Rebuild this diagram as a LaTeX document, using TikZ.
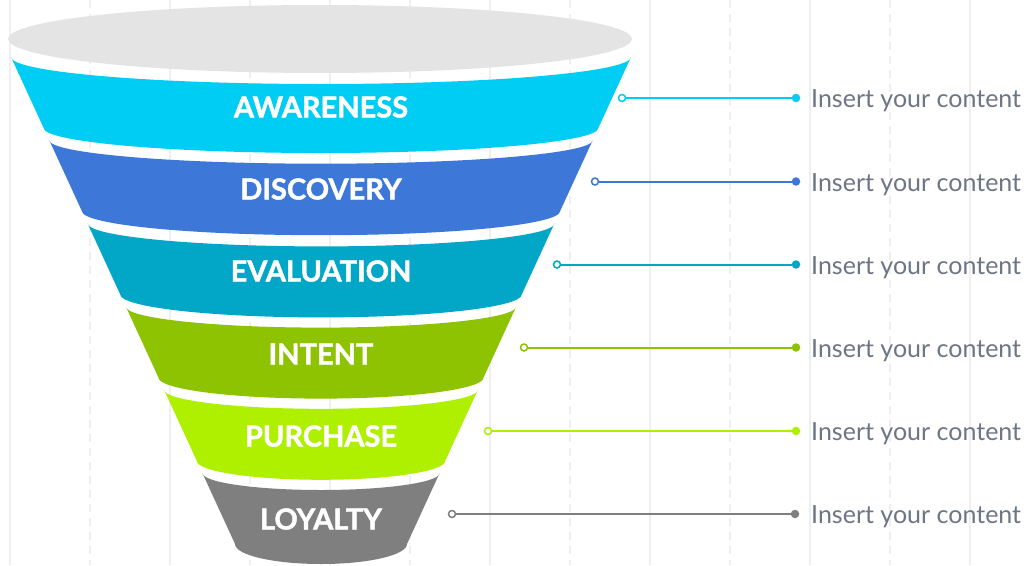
\documentclass[tikz,border=0pt]{standalone}
\usepackage{fontspec}
\setmainfont{Lato}
\newfontfamily\labelfont{Lato}[BoldFeatures={FakeBold=1.5}]
\definecolor{cA}{HTML}{00CDF4}
\definecolor{cB}{HTML}{3D78D8}
\definecolor{cC}{HTML}{02A6C7}
\definecolor{cD}{HTML}{8DC300}
\definecolor{cE}{HTML}{AFF000}
\definecolor{cF}{HTML}{7F7F7F}
\definecolor{topc}{HTML}{E4E4E4}
\definecolor{gridc}{HTML}{EFEFEF}
\definecolor{txtc}{HTML}{6E7585}
\newcommand\funnelseg[5]{%
  \pgfmathsetmacro\hwt{310-0.46*(#2-57)}%
  \pgfmathsetmacro\hwb{310-0.46*(#3-57)}%
  \fill[#1] ({321-\hwt},#2) arc[start angle=180,end angle=0,x radius=\hwt,y radius=#4]
    -- ({321+\hwb},#3) arc[start angle=0,end angle=180,x radius=\hwb,y radius=#5] -- cycle;
}
\begin{document}
\begin{tikzpicture}[x=1pt,y=1pt,yscale=-1,
  gridsolid/.style={draw=gridc, line width=1.5pt},
  griddash/.style={gridsolid, dash pattern=on 8pt off 6pt},
  seglabel/.style={text=white, font=\labelfont\bfseries\fontsize{29}{29}\selectfont, anchor=base, inner sep=0pt},
  content/.style={text=txtc, font=\fontsize{25}{26}\selectfont, anchor=base west, inner sep=0pt},
  opendot/.style={circle, draw=#1, fill=white, line width=1.5pt, minimum size=7pt, inner sep=0pt},
  fulldot/.style={circle, fill=#1, minimum size=8.5pt, inner sep=0pt},
  link/.style={draw=#1, line width=2pt}]
\useasboundingbox (0,0) rectangle (1028,565);
\fill[white] (0,0) rectangle (1028,565);
% background grid
\foreach \gx in {10,170,330,490,650,810,970} \draw[gridsolid] (\gx,0) -- (\gx,565);
\foreach \gx in {90,250,410,570,730,890} \draw[griddash] (\gx,0) -- (\gx,565);
% funnel
\fill[topc] (320,39) ellipse [x radius=312, y radius=34];
\funnelseg{cA}{57}{128}{27}{25}
\funnelseg{cB}{140.2}{211.2}{23.5}{24}
\funnelseg{cC}{223.4}{294.4}{23}{23}
\funnelseg{cD}{306.6}{377.6}{21}{21}
\funnelseg{cE}{389.8}{460.8}{19}{19}
\funnelseg{cF}{473}{544}{17}{20}
% labels
\node[seglabel] (l1) at (321,117.5) {AWARENESS};
\node[seglabel] (l2) at (321,199.5) {DISCOVERY};
\node[seglabel] (l3) at (321,281.5) {EVALUATION};
\node[seglabel] (l4) at (321,364.5) {INTENT};
\node[seglabel] (l5) at (321,446.5) {PURCHASE};
\node[seglabel] (l6) at (321,529.5) {LOYALTY};
% connectors
\node[opendot=cA] (o1) at (622,98) {};
\node[opendot=cB] (o2) at (595,181.5) {};
\node[opendot=cC] (o3) at (557,264.5) {};
\node[opendot=cD] (o4) at (524,347.5) {};
\node[opendot=cE] (o5) at (488,431) {};
\node[opendot=cF] (o6) at (452,514) {};
\node[fulldot=cA] (f1) at (796,98) {};
\node[fulldot=cB] (f2) at (796,181.5) {};
\node[fulldot=cC] (f3) at (796,264.5) {};
\node[fulldot=cD] (f4) at (796,347.5) {};
\node[fulldot=cE] (f5) at (796,431) {};
\node[fulldot=cF] (f6) at (795,514) {};
\draw[link=cA] (o1) -- (f1);
\draw[link=cB] (o2) -- (f2);
\draw[link=cC] (o3) -- (f3);
\draw[link=cD] (o4) -- (f4);
\draw[link=cE] (o5) -- (f5);
\draw[link=cF] (o6) -- (f6);
\node[content] (t1) at (811,107.5) {Insert your content};
\node[content] (t2) at (811,191) {Insert your content};
\node[content] (t3) at (811,274) {Insert your content};
\node[content] (t4) at (811,357) {Insert your content};
\node[content] (t5) at (811,440.5) {Insert your content};
\node[content] (t6) at (811,523.5) {Insert your content};
\end{tikzpicture}
\end{document}
